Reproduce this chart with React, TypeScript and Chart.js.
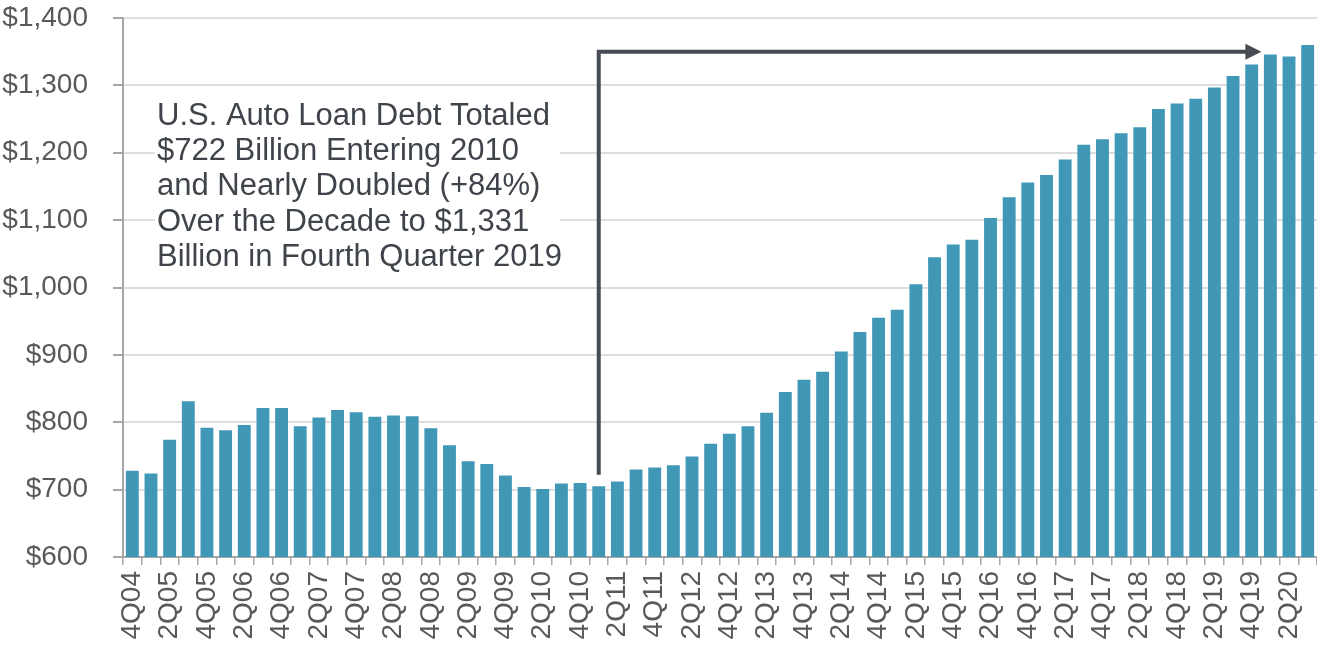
import React, { useEffect, useRef } from "react";
import { Chart, registerables } from "chart.js";

Chart.register(...registerables);

const quarters: string[] = [
  "4Q04",
  "1Q05", "2Q05", "3Q05", "4Q05",
  "1Q06", "2Q06", "3Q06", "4Q06",
  "1Q07", "2Q07", "3Q07", "4Q07",
  "1Q08", "2Q08", "3Q08", "4Q08",
  "1Q09", "2Q09", "3Q09", "4Q09",
  "1Q10", "2Q10", "3Q10", "4Q10",
  "1Q11", "2Q11", "3Q11", "4Q11",
  "1Q12", "2Q12", "3Q12", "4Q12",
  "1Q13", "2Q13", "3Q13", "4Q13",
  "1Q14", "2Q14", "3Q14", "4Q14",
  "1Q15", "2Q15", "3Q15", "4Q15",
  "1Q16", "2Q16", "3Q16", "4Q16",
  "1Q17", "2Q17", "3Q17", "4Q17",
  "1Q18", "2Q18", "3Q18", "4Q18",
  "1Q19", "2Q19", "3Q19", "4Q19",
  "1Q20", "2Q20", "3Q20",
];

// U.S. auto loan debt, $ billions
const autoLoanDebt: number[] = [
  728,
  724, 774, 831, 792,
  788, 796, 821, 821,
  794, 807, 818, 815,
  808, 810, 809, 791,
  766, 742, 738, 721,
  704, 701, 709, 710,
  705, 712, 730, 733,
  736, 749, 768, 783,
  794, 814, 845, 863,
  875, 905, 934, 955,
  967, 1005, 1045, 1064,
  1071, 1103, 1134, 1156,
  1167, 1190, 1212, 1220,
  1229, 1238, 1265, 1273,
  1280, 1297, 1314, 1331,
  1346, 1343, 1360,
];

const annotationLines: string[] = [
  "U.S. Auto Loan Debt Totaled",
  "$722 Billion Entering 2010",
  "and Nearly Doubled (+84%)",
  "Over the Decade to $1,331",
  "Billion in Fourth Quarter 2019",
];

const arrowStartIndex = 25; // 1Q11
const arrowStartValue = 722;
const arrowTopValue = 1350;
const arrowEndIndex = 60; // 4Q19

const FONT = "'Liberation Sans', Arial, Helvetica, sans-serif";

const annotationPlugin = {
  id: "annotationPlugin",
  afterDatasetsDraw(chart: any) {
    const { ctx, chartArea, scales } = chart;
    const x = scales.x;
    const y = scales.y;
    ctx.save();
    // white box behind text
    ctx.fillStyle = "#ffffff";
    ctx.fillRect(chartArea.left + 32, chartArea.top + 78, 405, 185);
    ctx.fillStyle = "#3f444a";
    ctx.font = `31px ${FONT}`;
    ctx.textAlign = "left";
    ctx.textBaseline = "middle";
    annotationLines.forEach((line, i) => {
      ctx.fillText(line, chartArea.left + 34, chartArea.top + 98 + i * 35.4);
    });

    // arrow
    const cat = x.getPixelForValue(1) - x.getPixelForValue(0);
    const xs = x.getPixelForValue(arrowStartIndex);
    const y0 = y.getPixelForValue(arrowStartValue);
    const y1 = y.getPixelForValue(arrowTopValue);
    const tip = x.getPixelForValue(arrowEndIndex) + cat * 0.52;
    ctx.strokeStyle = "#474c52";
    ctx.fillStyle = "#474c52";
    ctx.lineWidth = 4;
    ctx.lineJoin = "miter";
    ctx.lineCap = "butt";
    ctx.beginPath();
    ctx.moveTo(xs, y0);
    ctx.lineTo(xs, y1);
    ctx.lineTo(tip - 14, y1);
    ctx.stroke();
    ctx.beginPath();
    ctx.moveTo(tip, y1);
    ctx.lineTo(tip - 16, y1 - 8);
    ctx.lineTo(tip - 16, y1 + 8);
    ctx.closePath();
    ctx.fill();
    ctx.restore();
  },
};

export default function App() {
  const ref = useRef<HTMLCanvasElement | null>(null);

  useEffect(() => {
    if (!ref.current) return;
    const chart = new Chart(ref.current, {
      type: "bar",
      data: {
        labels: quarters,
        datasets: [
          {
            label: "Auto Loan Debt",
            data: autoLoanDebt,
            backgroundColor: "#4097b6",
            borderWidth: 0,
            barPercentage: 0.69,
            categoryPercentage: 1.0,
          },
        ],
      },
      options: {
        responsive: false,
        animation: false,
        devicePixelRatio: 1,
        layout: { padding: { top: 18, left: 0, right: 0, bottom: 0 } },
        plugins: {
          legend: { display: false },
          tooltip: { enabled: false },
        },
        scales: {
          x: {
            offset: true,
            grid: {
              offset: true,
              drawOnChartArea: false,
              drawTicks: true,
              tickLength: 8,
              tickColor: "#a6a6a6",
              lineWidth: 1.5,
            },
            border: { display: true, color: "#a6a6a6", width: 2 },
            ticks: {
              autoSkip: false,
              maxRotation: 90,
              minRotation: 90,
              padding: 6,
              color: "#595959",
              font: { family: FONT, size: 28 },
              callback: (_v: any, i: number) => (i % 2 === 0 ? quarters[i] : ""),
            },
            afterFit: (s: any) => {
              s.height = 93;
              s.paddingLeft = 0;
              s.paddingRight = 0;
            },
          },
          y: {
            min: 600,
            max: 1400,
            grid: {
              color: "#dedede",
              lineWidth: 2,
              drawTicks: true,
              tickLength: 10,
              tickColor: "#a6a6a6",
            },
            border: { display: true, color: "#a6a6a6", width: 2 },
            ticks: {
              stepSize: 100,
              padding: 25,
              color: "#595959",
              font: { family: FONT, size: 28 },
              callback: (v: any) => "$" + Number(v).toLocaleString("en-US"),
            },
            afterFit: (s: any) => {
              s.width = 123;
              s.paddingTop = 0;
              s.paddingBottom = 0;
            },
          },
        },
      },
      plugins: [annotationPlugin],
    });
    return () => chart.destroy();
  }, []);

  return (
    <div style={{ position: "absolute", left: 0, top: 0, width: 1317, height: 650, background: "#fff" }}>
      <canvas ref={ref} width={1317} height={650} style={{ display: "block" }} />
    </div>
  );
}
